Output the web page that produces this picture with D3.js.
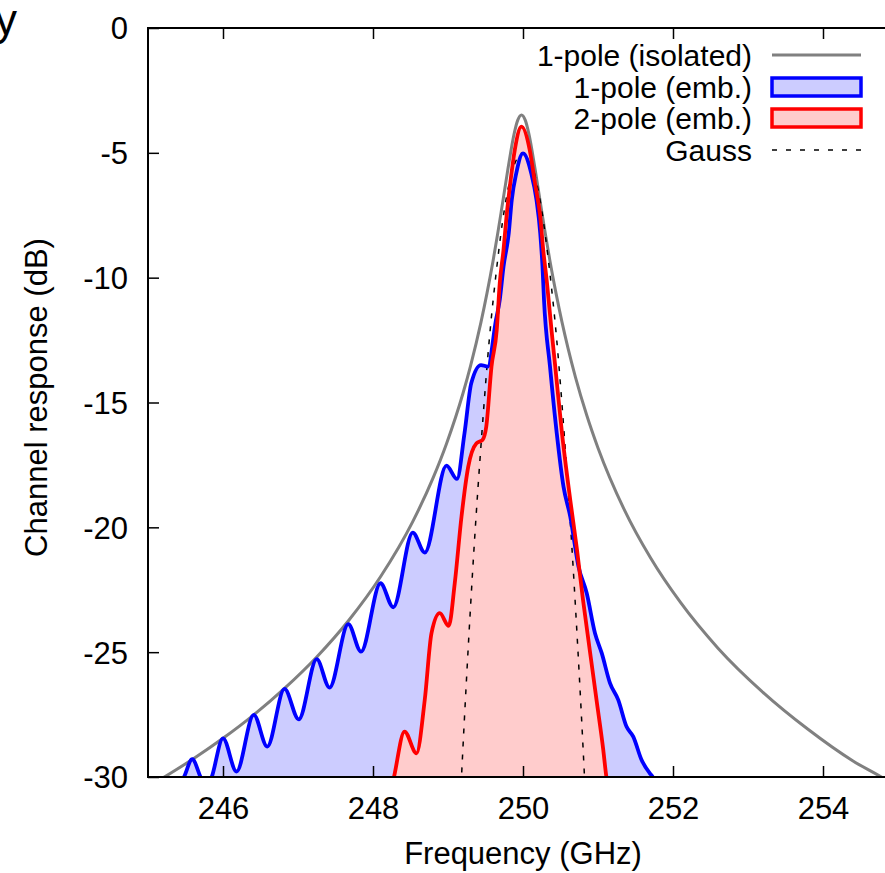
<!DOCTYPE html>
<html>
<head>
<meta charset="utf-8">
<title>Channel response</title>
<script src="https://cdn.jsdelivr.net/npm/d3@7"></script>
<style>
    html, body { margin: 0; padding: 0; background: #fff; }
    svg { display: block; font-family: "Liberation Sans", Arial, Helvetica, sans-serif; }
</style>
</head>
<body>
<div id="chart"></div>
<script>
// Tick values and labels
const xTicks = [246, 248, 250, 252, 254];
const xTickLabels = ['246', '248', '250', '252', '254'];
const yTicks = [0, -5, -10, -15, -20, -25, -30];
const yTickLabels = ['0', '-5', '-10', '-15', '-20', '-25', '-30'];

// 1-pole (isolated) - grey line
const isoFreq = [245.00, 245.30, 245.62, 246.00, 246.41, 246.82, 247.25, 247.67, 248.10, 248.53,
    248.80, 248.98, 249.20, 249.30, 249.44, 249.52, 249.60, 249.66, 249.71, 249.80,
    249.88, 249.93, 249.98, 250.03, 250.08, 250.16, 250.25, 250.30, 250.36, 250.44,
    250.52, 250.60, 250.70, 250.85, 251.00, 251.35, 251.70, 252.10, 252.60, 253.20,
    253.80, 254.40, 254.83, 255.00];
const isoDb = [-30.39, -29.85, -29.24, -28.45, -27.51, -26.45, -25.19, -23.75, -21.98, -19.77,
    -18.03, -16.65, -14.63, -13.54, -11.78, -10.62, -9.34, -8.28, -7.35, -5.63,
    -4.26, -3.69, -3.48, -3.69, -4.26, -5.63, -7.35, -8.28, -9.34, -10.62,
    -11.78, -12.82, -13.99, -15.51, -16.82, -19.29, -21.22, -23.01, -24.84, -26.61,
    -28.09, -29.36, -30.1, -30.46];

// 1-pole (embedded) - blue
const onePoleFreq = [245.30, 245.48, 245.59, 245.70, 245.78, 245.85, 246.00, 246.18, 246.41, 246.59,
    246.82, 247.01, 247.25, 247.42, 247.67, 247.84, 248.10, 248.27, 248.53, 248.69,
    248.98, 249.12, 249.22, 249.31, 249.44, 249.53, 249.64, 249.69, 249.74, 249.81,
    249.85, 249.91, 250.00, 250.11, 250.18, 250.23, 250.26, 250.28, 250.36, 250.45,
    250.54, 250.63, 250.74, 250.85, 250.96, 251.05, 251.16, 251.27, 251.38, 251.47,
    251.58, 251.69, 251.73, 251.85];
const onePoleDb = [-31.0, -30.0, -29.29, -30.0, -30.5, -30.0, -28.45, -29.78, -27.51, -28.78,
    -26.47, -27.69, -25.28, -26.42, -23.88, -24.98, -22.24, -23.20, -20.21, -21.01,
    -17.53, -18.06, -16.23, -14.23, -13.50, -13.56, -11.69, -10.89, -9.56, -8.22,
    -6.89, -5.82, -5.02, -5.82, -6.89, -8.22, -9.56, -10.89, -13.56, -16.23,
    -18.37, -19.57, -21.57, -22.64, -24.24, -25.04, -26.24, -26.91, -27.98, -28.38,
    -29.31, -29.85, -30.0, -30.8];

// 2-pole (embedded) - red
const twoPoleFreq = [248.22, 248.28, 248.42, 248.58, 248.69, 248.78, 248.89, 249.01, 249.09, 249.18,
    249.27, 249.38, 249.46, 249.51, 249.58, 249.65, 249.69, 249.74, 249.78, 249.83,
    249.89, 249.98, 250.09, 250.16, 250.23, 250.27, 250.32, 250.38, 250.43, 250.52,
    250.63, 250.72, 250.80, 250.89, 250.98, 251.07, 251.11, 251.16];
const twoPoleDb = [-30.8, -30.0, -28.18, -29.05, -26.91, -24.24, -23.44, -23.95, -22.24, -19.57,
    -17.57, -16.63, -16.50, -15.97, -13.56, -12.09, -10.22, -8.89, -7.56, -6.22,
    -4.89, -3.95, -4.89, -6.22, -7.56, -8.89, -10.22, -12.09, -13.56, -16.23,
    -18.90, -20.90, -22.90, -24.91, -26.91, -28.91, -29.96, -30.8];

// Gauss - dashed
const gaussFreq = [249.15, 249.18, 249.25, 249.35, 249.45, 249.55, 249.65, 249.75, 249.85, 249.95, 250.00,
    250.05, 250.15, 250.25, 250.35, 250.45, 250.55, 250.65, 250.75, 250.82, 250.85];
const gaussDb = [-31.9, -30.0, -25.9, -20.7, -16.3, -12.5, -9.6, -7.3, -5.8, -5.1, -5.0,
    -5.1, -5.8, -7.3, -9.6, -12.5, -16.3, -20.7, -25.9, -30.0, -31.9];

const legendLabels = ['1-pole (isolated)', '1-pole (emb.)', '2-pole (emb.)', 'Gauss'];

const zip = (fs, ds) => fs.map((f, i) => ({ f: f, db: ds[i] }));

const width = 885;
const height = 873;
const margin = { top: 28, right: -13, bottom: 96, left: 148 }; // right edge is cut off by the picture

const svg = d3.select('#chart')
    .append('svg')
    .attr('width', width)
    .attr('height', height);

const x = d3.scaleLinear()
    .domain([245, 255])
    .range([margin.left, width - margin.right]);

const y = d3.scaleLinear()
    .domain([-30, 0])
    .range([height - margin.bottom, margin.top]);

svg.append('clipPath')
    .attr('id', 'plot-clip')
    .append('rect')
    .attr('x', x(245))
    .attr('y', y(0))
    .attr('width', x(255) - x(245))
    .attr('height', y(-30) - y(0));

const line = d3.line()
    .x(d => x(d.f))
    .y(d => y(d.db))
    .curve(d3.curveMonotoneX);

const area = d3.area()
    .x(d => x(d.f))
    .y0(y(-30))
    .y1(d => y(d.db))
    .curve(d3.curveMonotoneX);

const plot = svg.append('g').attr('clip-path', 'url(#plot-clip)');

// Filled areas first, so the lines stay on top
plot.append('path')
    .datum(zip(onePoleFreq, onePoleDb))
    .attr('fill', '#ccccff')
    .attr('d', area);

plot.append('path')
    .datum(zip(twoPoleFreq, twoPoleDb))
    .attr('fill', '#ffcccc')
    .attr('d', area);

plot.append('path')
    .datum(zip(isoFreq, isoDb))
    .attr('fill', 'none')
    .attr('stroke', '#808080')
    .attr('stroke-width', 3)
    .attr('d', line);

plot.append('path')
    .datum(zip(gaussFreq, gaussDb))
    .attr('fill', 'none')
    .attr('stroke', '#000')
    .attr('stroke-width', 1.5)
    .attr('stroke-dasharray', '5,8')
    .attr('d', line);

plot.append('path')
    .datum(zip(onePoleFreq, onePoleDb))
    .attr('fill', 'none')
    .attr('stroke', '#0000ff')
    .attr('stroke-width', 3.8)
    .attr('d', line);

plot.append('path')
    .datum(zip(twoPoleFreq, twoPoleDb))
    .attr('fill', 'none')
    .attr('stroke', '#ff0000')
    .attr('stroke-width', 3.8)
    .attr('d', line);

// Axes, ticks pointing inward on all sides
const fontSize = 31;

svg.append('g')
    .attr('transform', `translate(0,${y(-30)})`)
    .call(d3.axisBottom(x).tickValues(xTicks)
        .tickFormat((d, i) => xTickLabels[i])
        .tickSizeInner(-11).tickSizeOuter(0).tickPadding(20));

svg.append('g')
    .attr('transform', `translate(0,${y(0)})`)
    .call(d3.axisTop(x).tickValues(xTicks).tickFormat('')
        .tickSizeInner(-11).tickSizeOuter(0));

const yAxis = svg.append('g')
    .attr('transform', `translate(${x(245)},0)`)
    .call(d3.axisLeft(y).tickValues(yTicks)
        .tickFormat((d, i) => yTickLabels[i])
        .tickSizeInner(-11).tickSizeOuter(0).tickPadding(20));

svg.append('g')
    .attr('transform', `translate(${x(255)},0)`)
    .call(d3.axisRight(y).tickValues(yTicks).tickFormat('')
        .tickSizeInner(-11).tickSizeOuter(0));

svg.selectAll('.domain').remove();
svg.selectAll('.tick line').attr('stroke', '#000').attr('stroke-width', 1.5);
svg.selectAll('.tick text')
    .attr('font-size', fontSize)
    .attr('font-family', '"Liberation Sans", Arial, sans-serif')
    .attr('fill', '#000');
yAxis.selectAll('.tick text').attr('dy', '0.35em');

// Frame
svg.append('rect')
    .attr('x', x(245))
    .attr('y', y(0))
    .attr('width', x(255) - x(245))
    .attr('height', y(-30) - y(0))
    .attr('fill', 'none')
    .attr('stroke', '#000')
    .attr('stroke-width', 2);

// Axis titles
svg.append('text')
    .attr('x', x(250))
    .attr('y', 864)
    .attr('text-anchor', 'middle')
    .attr('font-size', fontSize)
    .text('Frequency (GHz)');

svg.append('text')
    .attr('transform', `translate(47,${(y(0) + y(-30)) / 2 - 5}) rotate(-90)`)
    .attr('text-anchor', 'middle')
    .attr('font-size', fontSize)
    .text('Channel response (dB)');

// Cut-off letter at the top-left corner
svg.append('text')
    .attr('x', 17)
    .attr('y', 35)
    .attr('text-anchor', 'end')
    .attr('font-size', 44)
    .text('y');

// Legend
const legend = svg.append('g');
const rowY = [55, 87, 118, 150];
const sampleX0 = 772;
const sampleX1 = 861;

legend.selectAll('text')
    .data(legendLabels)
    .join('text')
    .attr('x', 752)
    .attr('y', (d, i) => rowY[i])
    .attr('dy', '0.36em')
    .attr('text-anchor', 'end')
    .attr('font-size', 30)
    .text(d => d);

legend.append('line')
    .attr('x1', sampleX0).attr('x2', sampleX1)
    .attr('y1', rowY[0]).attr('y2', rowY[0])
    .attr('stroke', '#808080').attr('stroke-width', 3);

legend.append('rect')
    .attr('x', sampleX0).attr('y', rowY[1] - 9)
    .attr('width', sampleX1 - sampleX0).attr('height', 18)
    .attr('fill', '#ccccff').attr('stroke', '#0000ff').attr('stroke-width', 3.5);

legend.append('rect')
    .attr('x', sampleX0).attr('y', rowY[2] - 9)
    .attr('width', sampleX1 - sampleX0).attr('height', 18)
    .attr('fill', '#ffcccc').attr('stroke', '#ff0000').attr('stroke-width', 3.5);

legend.append('line')
    .attr('x1', sampleX0).attr('x2', sampleX1)
    .attr('y1', rowY[3]).attr('y2', rowY[3])
    .attr('stroke', '#000').attr('stroke-width', 1.5)
    .attr('stroke-dasharray', '5,9');
</script>
</body>
</html>
